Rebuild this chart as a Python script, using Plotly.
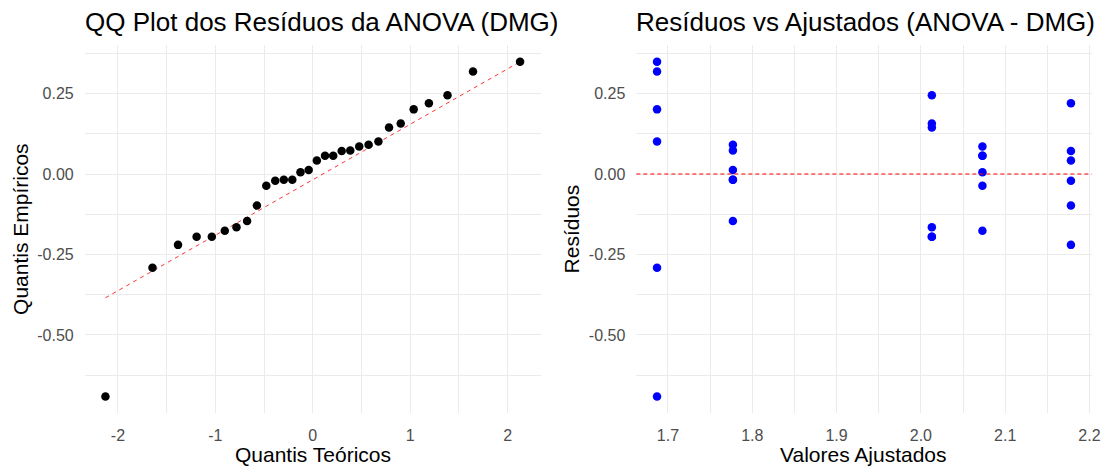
import numpy as np
import plotly.graph_objects as go

# ---------------- data ----------------
theoretical_quantiles = [-2.128, -1.645, -1.383, -1.192, -1.036, -0.903, -0.783, -0.674,
                         -0.573, -0.477, -0.385, -0.297, -0.210, -0.126, -0.042, 0.042,
                         0.126, 0.210, 0.297, 0.385, 0.477, 0.573, 0.674, 0.783, 0.903,
                         1.036, 1.192, 1.383, 1.645, 2.128]

fitted_values = [1.687, 1.687, 1.687, 1.687, 1.687, 1.687,
                 1.777, 1.777, 1.777, 1.777, 1.777, 1.777,
                 2.013, 2.013, 2.013, 2.013, 2.013, 2.013,
                 2.073, 2.073, 2.073, 2.073, 2.073, 2.073,
                 2.178, 2.178, 2.178, 2.178, 2.178, 2.178]

residuals = [0.349, 0.319, 0.201, 0.101, -0.291, -0.691,
             0.091, 0.073, 0.013, -0.018, -0.018, -0.146,
             0.245, 0.157, 0.145, -0.165, -0.195, -0.195,
             0.086, 0.057, 0.057, 0.006, -0.036, -0.176,
             0.220, 0.072, 0.042, -0.021, -0.098, -0.220]

qq_x_ticks = [-2, -1, 0, 1, 2]
qq_x_labels = ["-2", "-1", "0", "1", "2"]
y_ticks = [-0.5, -0.25, 0.0, 0.25]
y_labels = ["-0.50", "-0.25", "0.00", "0.25"]
fit_x_ticks = [1.7, 1.8, 1.9, 2.0, 2.1, 2.2]
fit_x_labels = ["1.7", "1.8", "1.9", "2.0", "2.1", "2.2"]
reference_residual = 0.0

title_left = "QQ Plot dos Resíduos da ANOVA (DMG)"
title_right = "Resíduos vs Ajustados (ANOVA - DMG)"
xlab_left = "Quantis Teóricos"
ylab_left = "Quantis Empíricos"
xlab_right = "Valores Ajustados"
ylab_right = "Resíduos"

# ---------------- derived ----------------
sample_q = sorted(residuals)
q1, q3 = np.quantile(residuals, [0.25, 0.75])
z75 = 0.6744897501960817
slope = (q3 - q1) / (2 * z75)
intercept = q1 + slope * z75
line_x = [min(theoretical_quantiles), max(theoretical_quantiles)]
line_y = [intercept + slope * v for v in line_x]


def expand(vals, f=0.05):
    lo, hi = min(vals), max(vals)
    d = (hi - lo) * f
    return [lo - d, hi + d]


FONT = "Liberation Sans, Arial, sans-serif"
GRID = "#EBEBEB"
TICKC = "#4D4D4D"

fig = go.Figure()
fig.add_trace(go.Scatter(x=line_x, y=line_y, mode="lines",
                         line=dict(color="#FF0000", width=0.8, dash="4px,4px"),
                         xaxis="x", yaxis="y", hoverinfo="skip"))
fig.add_trace(go.Scatter(x=theoretical_quantiles, y=sample_q, mode="markers",
                         marker=dict(color="black", size=8.5),
                         xaxis="x", yaxis="y"))
fig.add_trace(go.Scatter(x=fitted_values, y=residuals, mode="markers",
                         marker=dict(color="#0000FF", size=8.5),
                         xaxis="x2", yaxis="y2"))

fig.add_shape(type="line", xref="x2 domain", x0=0, x1=1, yref="y2",
              y0=reference_residual, y1=reference_residual,
              line=dict(color="#FF0000", width=1.1, dash="4px,3px"), layer="above")

yr = expand(residuals)

common_axis = dict(showgrid=True, gridcolor=GRID, gridwidth=1.1, zeroline=False,
                   showline=False, ticks="", tickmode="array",
                   tickfont=dict(size=16, color=TICKC, family=FONT))

fig.update_layout(
    width=1117, height=466,
    margin=dict(l=0, r=0, t=0, b=0),
    paper_bgcolor="white", plot_bgcolor="white",
    showlegend=False,
    font=dict(family=FONT),
    xaxis=dict(domain=[0.07645, 0.48809], anchor="y", range=expand(theoretical_quantiles),
               tickvals=qq_x_ticks, ticktext=qq_x_labels, ticklabelstandoff=11,
               minor=dict(tickmode="linear", tick0=0, dtick=0.5, showgrid=True,
                          gridcolor=GRID, gridwidth=0.55),
               **common_axis),
    yaxis=dict(domain=[0.1133, 0.90343], anchor="x", range=yr,
               tickvals=y_ticks, ticktext=y_labels, ticklabelstandoff=10,
               minor=dict(tickmode="linear", tick0=0, dtick=0.125, showgrid=True,
                          gridcolor=GRID, gridwidth=0.55),
               **common_axis),
    xaxis2=dict(domain=[0.57431, 0.98523], anchor="y2", range=expand(fitted_values),
                tickvals=fit_x_ticks, ticktext=fit_x_labels, ticklabelstandoff=11,
                minor=dict(tickmode="linear", tick0=0, dtick=0.05, showgrid=True,
                           gridcolor=GRID, gridwidth=0.55),
                **common_axis),
    yaxis2=dict(domain=[0.1133, 0.90343], anchor="x2", range=yr,
                tickvals=y_ticks, ticktext=y_labels, ticklabelstandoff=10,
                minor=dict(tickmode="linear", tick0=0, dtick=0.125, showgrid=True,
                           gridcolor=GRID, gridwidth=0.55),
                **common_axis),
)

ann = []
title_y = 1 - 22.2 / 466
for xr, txt in (("x domain", title_left), ("x2 domain", title_right)):
    ann.append(dict(text=txt, xref=xr, x=0, xanchor="left", xshift=-2,
                    yref="paper", y=title_y, yanchor="middle", showarrow=False,
                    font=dict(size=26, color="black", family=FONT)))
xt_y = 1 - 454.3 / 466
for xr, txt in (("x domain", xlab_left), ("x2 domain", xlab_right)):
    ann.append(dict(text=txt, xref=xr, x=0.5, xanchor="center",
                    yref="paper", y=xt_y, yanchor="middle", showarrow=False,
                    font=dict(size=21, color="black", family=FONT)))
for xp, yr_, txt in ((20 / 1117, "y domain", ylab_left), (576 / 1117, "y2 domain", ylab_right)):
    ann.append(dict(text=txt, xref="paper", x=xp, xanchor="center",
                    yref=yr_, y=0.5, yanchor="middle", textangle=-90, showarrow=False,
                    font=dict(size=21, color="black", family=FONT)))
fig.update_layout(annotations=ann)

fig.write_html("out.html", config={"displayModeBar": False},
               post_script="document.body.style.margin='0';document.body.style.overflow='hidden';")
